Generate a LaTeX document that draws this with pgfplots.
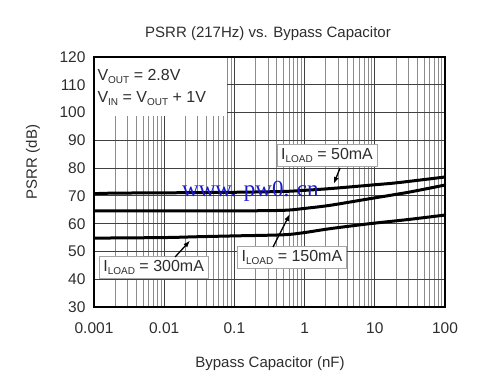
\documentclass[border=0pt]{standalone}
\usepackage{pgfplots}
\pgfplotsset{compat=1.18}
\usepackage{fontspec}
\setmainfont{Liberation Sans}
\newfontfamily\wm{Liberation Serif}
\usetikzlibrary{arrows.meta}
\newcommand\sub[1]{\raisebox{-0.35ex}{\fontsize{10}{10}\selectfont #1}}
\definecolor{txt}{RGB}{45,45,45}
\definecolor{wmblue}{RGB}{25,25,205}
\begin{document}
\begin{tikzpicture}[x=1pt,y=1pt]
\path[use as bounding box] (0,0) rectangle (501,381);
\begin{axis}[at={(94pt,74pt)}, anchor=south west, scale only axis,
  width=351pt, height=250pt,
  xmode=log, xmin=0.001, xmax=100, ymin=30, ymax=120,
  ytick={30,40,...,120},
  xtick={0.001,0.01,0.1,1,10,100},
  xticklabels={0.001,0.01,0.1,1,10,100},
  grid=both,
  major grid style={black!75, line width=1pt},
  minor grid style={black!45, line width=0.7pt},
  axis line style={line width=1.8pt},
  major tick length=0pt, minor tick length=0pt,
  ticklabel style={font=\fontsize{15.5}{15.5}\selectfont, text=txt},
  /pgf/number format/assume math mode=true,
  xticklabel style={yshift=-12pt},
  yticklabel style={xshift=-5pt},
  clip=false]
\addplot[black, line width=3pt, smooth] coordinates {
 (0.001,70.8) (0.002,71.0) (0.01,71.1) (0.1,71.3) (0.5,71.6) (1,72.0)
 (2.5,72.7) (10,74.0) (22,74.8) (100,76.8)};
\addplot[black, line width=3pt, smooth] coordinates {
 (0.001,64.6) (0.01,64.6) (0.1,64.6) (0.5,64.8) (1,65.5) (2.3,66.6)
 (8.5,69.0) (30,71.3) (100,73.9)};
\addplot[black, line width=3pt, smooth] coordinates {
 (0.001,54.8) (0.01,55.0) (0.03,55.3) (0.1,55.6) (0.5,56.0) (1,56.8)
 (2.3,58.2) (8.5,60.0) (30,61.5) (100,63.1)};
% V box
\fill[white] (rel axis cs:0.004,0.996) rectangle (rel axis cs:0.378,0.765);
\node[anchor=west, text=txt, font=\fontsize{16}{16}\selectfont] at (rel axis cs:0.0,0.924) {V\sub{OUT} = 2.8V};
\node[anchor=west, text=txt, font=\fontsize{16}{16}\selectfont] at (rel axis cs:0.0,0.832) {V\sub{IN} = V\sub{OUT} + 1V};
% labels
\node[fill=white, draw=black!35, line width=0.5pt, inner sep=4pt, text=txt, font=\fontsize{16}{16}\selectfont] at (rel axis cs:0.170,0.16) {I\sub{LOAD} = 300mA};
\node[fill=white, draw=black!35, line width=0.5pt, inner sep=4pt, text=txt, font=\fontsize{16}{16}\selectfont] at (rel axis cs:0.564,0.20) {I\sub{LOAD} = 150mA};
\node[fill=white, draw=black!35, line width=0.5pt, inner sep=4pt, text=txt, font=\fontsize{16}{16}\selectfont] at (rel axis cs:0.664,0.608) {I\sub{LOAD} = 50mA};
% arrows
\draw[-{Latex[length=7pt,width=5pt]}, line width=1.3pt] (rel axis cs:0.231,0.20) -- (rel axis cs:0.274,0.266);
\draw[-{Latex[length=7pt,width=5pt]}, line width=1.3pt] (rel axis cs:0.510,0.24) -- (rel axis cs:0.558,0.372);
\draw[-{Latex[length=7pt,width=5pt]}, line width=1.3pt] (rel axis cs:0.701,0.556) -- (rel axis cs:0.683,0.492);
\end{axis}
\node[text=txt, font=\fontsize{15}{15}\selectfont] at (268,347) {PSRR (217Hz) vs. Bypass Capacitor};
\node[text=txt, font=\fontsize{15}{15}\selectfont] at (270,17) {Bypass Capacitor (nF)};
\node[text=txt, font=\fontsize{15}{15}\selectfont, rotate=90] at (33,219) {PSRR (dB)};
\node[anchor=base west, inner sep=0, text=wmblue, font=\wm\fontsize{23}{23}\selectfont] at (182,185) {www. pw0. cn};
\end{tikzpicture}
\end{document}
